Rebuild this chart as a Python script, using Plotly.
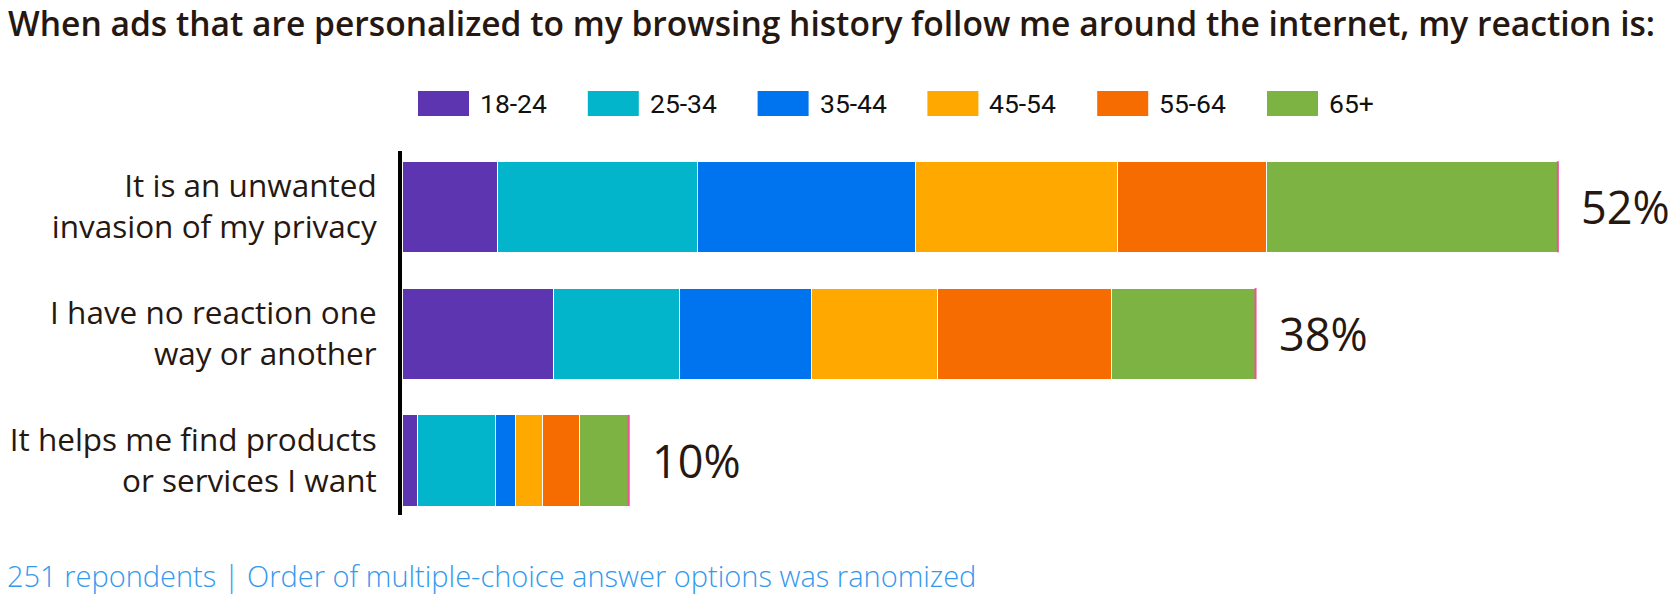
import plotly.graph_objects as go

# ---- data ----
categories = [
    "It is an unwanted<br>invasion of my privacy",
    "I have no reaction one<br>way or another",
    "It helps me find products<br>or services I want",
]
age_groups = ["18-24", "25-34", "35-44", "45-54", "55-64", "65+"]
# percent of all respondents, per answer (rows) and age group (columns)
v_18_24 = [4.3, 6.8, 0.7]
v_25_34 = [9.0, 5.7, 3.5]
v_35_44 = [9.8, 5.9, 0.9]
v_45_54 = [9.1, 5.7, 1.2]
v_55_64 = [6.7, 7.8, 1.7]
v_65p = [13.1, 6.5, 2.2]
total_labels = ["52%", "38%", "10%"]
footer_text = "251 repondents | Order of multiple-choice answer options was ranomized"
title_text = "When ads that are personalized to my browsing history follow me around the internet, my reaction is:"

series = [v_18_24, v_25_34, v_35_44, v_45_54, v_55_64, v_65p]
colors = ["#5e35b1", "#03b5cb", "#0073ef", "#ffa800", "#f76c00", "#7cb342"]
TEXT = "#261810"
FONT = "Open Sans"

fig = go.Figure()
for name, vals, col in zip(age_groups, series, colors):
    fig.add_trace(go.Bar(
        y=categories, x=vals, name=name, orientation="h",
        marker=dict(color=col, line=dict(color="white", width=1)),
        showlegend=False, hoverinfo="x+name",
    ))

totals = [sum(s[i] for s in series) for i in range(len(categories))]

# figure is placed with the page's default 8px body margin -> use 1672x601
W, H = 1672, 601
L, R, T, B = 394, 11, 143, 94
pw, ph = W - L - R, H - T - B

def px_x(px):
    return (px - L) / pw

def px_y(py):
    return (H - B - py) / ph

shapes = []
annotations = []
# end markers + total labels
for idx, (cat, tot, lab) in enumerate(zip(categories, totals, total_labels)):
    shapes.append(dict(type="line", xref="x", yref="y", x0=tot, x1=tot,
                       y0=idx - 0.359, y1=idx + 0.359,
                       line=dict(color="#f0509c", width=2)))
    annotations.append(dict(x=tot, y=cat, xref="x", yref="y", text=lab,
                            showarrow=False, xanchor="left", yanchor="middle",
                            xshift=21, font=dict(family=FONT, size=45, color=TEXT, weight=500)))

# custom legend
for i, (name, col) in enumerate(zip(age_groups, colors)):
    x0 = 410 + i * 169.8
    shapes.append(dict(type="rect", xref="paper", yref="paper",
                       x0=px_x(x0), x1=px_x(x0 + 51), y0=px_y(108), y1=px_y(83),
                       fillcolor=col, line=dict(width=0)))
    annotations.append(dict(x=px_x(x0 + 60), y=px_y(95.5), xref="paper", yref="paper",
                            text=name, showarrow=False, xanchor="left", yanchor="middle",
                            font=dict(family="Roboto", size=26.5, color="#111111")))

annotations.append(dict(x=px_x(-3), y=px_y(567), xref="paper", yref="paper",
                        text=footer_text, showarrow=False, xanchor="left", yanchor="middle",
                        font=dict(family=FONT, size=29, color="#3399ee", weight=300)))

fig.update_layout(
    barmode="stack",
    bargap=0.282,
    width=W, height=H,
    margin=dict(l=L, r=R, t=T, b=B, pad=0, autoexpand=False),
    paper_bgcolor="white", plot_bgcolor="white",
    title=dict(text=title_text, xref="container", yref="container",
               x=0, xanchor="left", y=1 - 4 / H, yanchor="top",
               font=dict(family=FONT, size=33.6, color=TEXT, weight=600), pad=dict(t=0, l=0)),
    xaxis=dict(range=[0, 57], showgrid=False, zeroline=False, automargin=False,
               showticklabels=False, showline=False),
    yaxis=dict(range=[2.43, -0.44], showgrid=False, zeroline=False, automargin=False,
               showline=True, linecolor="black", linewidth=4,
               ticks="", ticklabelstandoff=15,
               tickfont=dict(family=FONT, size=31.5, color=TEXT, weight=500)),
    shapes=shapes,
    annotations=annotations,
)

fig.write_html("out.html")
